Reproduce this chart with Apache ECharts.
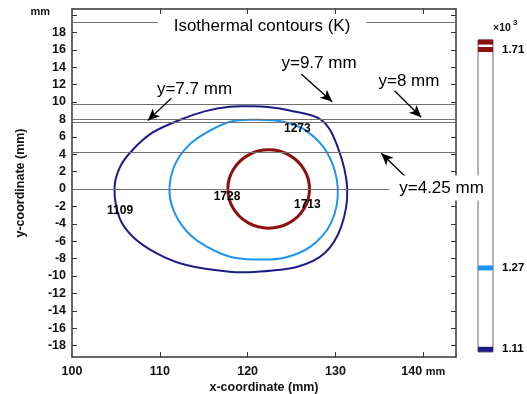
<!DOCTYPE html>
<html><head><meta charset="utf-8">
<script src="https://cdn.jsdelivr.net/npm/echarts@6/dist/echarts.min.js"></script>
<style>html,body{margin:0;padding:0;background:#fff}#c{width:527px;height:394px}</style>
</head><body><div id="c"></div>
<script>
const FONT = "'Liberation Sans', Arial, sans-serif";
const xRange = [100, 143.73];
const yRange = [-19.31, 20.69];
const xTickLabels = [100, 110, 120, 130, 140];
const xTickMarks = [110, 120, 130, 140];
const yTickValues = [-18,-16,-14,-12,-10,-8,-6,-4,-2,0,2,4,6,8,10,12,14,16,18,20];
const refLineY = [19.2, 9.7, 8, 7.7, 4.25, 0];

const contour1109 = [
  [120.2,9.5],[122.3,9.43],[124.8,9.02],[128.4,7.93],[130.24,4.86],[131.34,0.08],
  [130.66,-4.33],[128.76,-7.39],[125.68,-8.93],[121.13,-9.51],[117.94,-9.51],
  [113.01,-8.74],[109.59,-7.36],[106.92,-5.48],[105.41,-3.33],[104.84,0.08],
  [105.5,2.6],[107.0,4.6],[109.2,6.5],[112.24,7.93],[115.2,8.95],[117.94,9.46]
];
const contour1273 = [
  [121.1,7.95],[124.2,7.7],[126.8,6.6],[129.1,4.1],[130.27,0.1],[129.5,-3.9],
  [127.2,-6.6],[124.2,-7.9],[121.1,-8.1],[117.9,-7.75],[114.5,-6.1],[112.6,-4.3],
  [111.4,-2.0],[111.1,0.1],[111.6,2.5],[112.8,4.5],[114.5,6.0],[117.9,7.7]
];
const contour1713 = [
  [122.4,4.5],[124.73,3.9],[126.43,2.25],[127.05,0],[126.43,-2.25],[124.73,-3.9],
  [122.4,-4.5],[120.08,-3.9],[118.37,-2.25],[117.75,0],[118.37,2.25],[120.08,3.9]
];
const contourLabels = [
  ['1109', 105.47, -2.53],
  ['1728', 117.65, -0.89],
  ['1713', 126.8, -1.76],
  ['1273', 125.66, 6.98]
];
const annotationTexts = ['Isothermal contours (K)', 'y=9.7 mm', 'y=8 mm', 'y=7.7 mm', 'y=4.25 mm'];
const annotationPos = [[121.64, 18.75], [128.13, 14.48], [138.37, 12.36], [113.95, 11.49], [141.74, 0.11]];
const arrowFrom = [[111.30,10.43],[126.1,13.22],[136.73,11.29],[137.98,1.41]];
const arrowTo   = [[108.63,7.86],[129.64,10.03],[139.77,8.24],[135.22,4.1]];

const colorbarValues = [1.109, 1.273, 1.713, 1.728];
const colorbarLabels = ['1.11', '1.27', '1.71', ''];
const colorbarRange = [1.1036, 1.7322];

const C_NAVY = '#1c1c88', C_BLUE = '#1e96f0', C_RED = '#8e0f0f';
const colorbarColors = [C_NAVY, C_BLUE, C_RED, C_RED];

const chart = echarts.init(document.getElementById('c'), null, {renderer: 'canvas'});
const axisLineStyle = {color: '#333', width: 1.5};
const labelPads = [[2,16,2,16],[0,0,0,0],[0,0,0,0],[0,0,0,0],[4,4,4,10]];

function closedCurve(color, width) {
  return function (params, api) {
    if (params.dataIndexInside !== 0) return null;
    const n = params.dataInsideLength;
    const p = [];
    for (let i = 0; i < n; i++) p.push(api.coord([api.value(0, i), api.value(1, i)]));
    let d = 'M' + p[0][0] + ',' + p[0][1];
    for (let i = 0; i < n; i++) {
      const p0 = p[(i - 1 + n) % n], p1 = p[i], p2 = p[(i + 1) % n], p3 = p[(i + 2) % n];
      const c1 = [p1[0] + (p2[0] - p0[0]) / 6, p1[1] + (p2[1] - p0[1]) / 6];
      const c2 = [p2[0] - (p3[0] - p1[0]) / 6, p2[1] - (p3[1] - p1[1]) / 6];
      d += 'C' + c1[0] + ',' + c1[1] + ',' + c2[0] + ',' + c2[1] + ',' + p2[0] + ',' + p2[1];
    }
    d += 'Z';
    return {type: 'path', shape: {pathData: d}, style: {fill: 'none', stroke: color, lineWidth: width}};
  };
}

const noOverlap = {nameMoveOverlap: false};

const option = {
  animation: false,
  backgroundColor: '#fff',
  textStyle: {fontFamily: FONT},
  grid: [
    {left: 72, top: 9, width: 384, height: 348, outerBoundsMode: 'none', containLabel: false},
    {left: 478, top: 40, width: 15, height: 312, outerBoundsMode: 'none', containLabel: false,
     show: true, borderColor: '#666', borderWidth: 1, backgroundColor: '#fff'}
  ],
  xAxis: [
    Object.assign({gridIndex: 0, type: 'value', position: 'bottom', min: xRange[0], max: xRange[1],
     axisLine: {onZero: false, lineStyle: axisLineStyle}, splitLine: {show: false},
     axisTick: {inside: true, length: 5, lineStyle: {color: '#333'}, customValues: xTickMarks},
     axisLabel: {margin: 8, color: '#111', fontWeight: 'bold', fontSize: 12.5, fontFamily: FONT,
       customValues: xTickLabels,
       formatter: v => v === 140 ? '140 {u|mm}' : String(v),
       rich: {u: {fontSize: 11, fontWeight: 'bold', fontFamily: FONT, color: '#111'}}},
     name: 'x-coordinate (mm)', nameLocation: 'middle', nameGap: 24,
     nameTextStyle: {fontWeight: 'bold', fontSize: 12.5, color: '#111', fontFamily: FONT}}, noOverlap),
    {gridIndex: 0, type: 'value', position: 'top', min: xRange[0], max: xRange[1],
     axisLine: {onZero: false, lineStyle: axisLineStyle}, splitLine: {show: false},
     axisTick: {inside: true, length: 5, lineStyle: {color: '#333'}, customValues: xTickMarks}, axisLabel: {show: false}},
    {gridIndex: 1, type: 'value', min: 0, max: 1, show: false}
  ],
  yAxis: [
    Object.assign({gridIndex: 0, type: 'value', position: 'left', min: yRange[0], max: yRange[1],
     axisLine: {onZero: false, lineStyle: axisLineStyle}, splitLine: {show: false},
     axisTick: {inside: true, length: 5, lineStyle: {color: '#333'}, customValues: yTickValues},
     axisLabel: {margin: 6, color: '#111', fontWeight: 'bold', fontSize: 12.5, fontFamily: FONT,
       customValues: yTickValues,
       formatter: v => v === 20 ? '{u|mm}' : String(v),
       rich: {u: {fontSize: 11, fontWeight: 'bold', fontFamily: FONT, color: '#111', padding: [0, 16, 6, 0]}}},
     name: 'y-coordinate (mm)', nameLocation: 'middle', nameGap: 45,
     nameTextStyle: {fontWeight: 'bold', fontSize: 12.5, color: '#111', fontFamily: FONT}}, noOverlap),
    {gridIndex: 0, type: 'value', position: 'right', min: yRange[0], max: yRange[1],
     axisLine: {onZero: false, lineStyle: axisLineStyle}, splitLine: {show: false},
     axisTick: {inside: true, length: 5, lineStyle: {color: '#333'}, customValues: yTickValues},
     axisLabel: {show: false}},
    {gridIndex: 1, type: 'value', min: colorbarRange[0], max: colorbarRange[1], show: false}
  ],
  graphic: [
    {type: 'text', left: 493, top: 23, z: 100, style: {text: '×10', font: 'bold 10.5px ' + FONT, fill: '#111'}},
    {type: 'text', left: 513, top: 19, z: 100, style: {text: '3', font: 'bold 8px ' + FONT, fill: '#111'}}
  ],
  series: [
    {type: 'line', xAxisIndex: 0, yAxisIndex: 0, data: [], silent: true,
     markLine: {silent: true, symbol: ['none', 'none'], label: {show: false},
       lineStyle: {color: '#707070', width: 1.2, type: 'solid'},
       data: refLineY.map(y => [{coord: [xRange[0], y]}, {coord: [xRange[1], y]}])}},
    {type: 'custom', name: '1109', data: contour1109, silent: true, z: 3,
     encode: {x: 0, y: 1}, renderItem: closedCurve(C_NAVY, 2)},
    {type: 'custom', name: '1273', data: contour1273, silent: true, z: 3,
     encode: {x: 0, y: 1}, renderItem: closedCurve(C_BLUE, 2)},
    {type: 'custom', name: '1713', data: contour1713, silent: true, z: 3,
     encode: {x: 0, y: 1}, renderItem: closedCurve(C_RED, 3)},
    {type: 'line', xAxisIndex: 0, yAxisIndex: 0, data: [], silent: true, z: 5,
     markLine: {silent: true, symbol: ['none', 'arrow'], symbolSize: [8, 12], label: {show: false},
       lineStyle: {color: '#000', width: 1.3, type: 'solid'},
       data: arrowFrom.map((p, i) => [{coord: p}, {coord: arrowTo[i]}])}},
    {type: 'scatter', z: 6, silent: true, symbolSize: 1, itemStyle: {color: 'rgba(0,0,0,0)', opacity: 1},
     data: contourLabels.map(d => ({name: d[0], value: [d[1], d[2]]})),
     label: {show: true, position: 'inside', opacity: 1, formatter: p => p.name, color: '#000', fontWeight: 'bold', fontSize: 12, fontFamily: FONT}},
    {type: 'scatter', z: 10, silent: true, symbolSize: 1, clip: false, itemStyle: {color: 'rgba(0,0,0,0)', opacity: 1},
     data: annotationTexts.map((t, i) => ({name: t, value: annotationPos[i],
       label: {padding: labelPads[i], backgroundColor: (i === 0 || i === 4) ? '#fff' : 'transparent'}})),
     label: {show: true, position: 'inside', opacity: 1, formatter: p => p.name, color: '#000', fontSize: 17, fontFamily: FONT}},
    {type: 'scatter', xAxisIndex: 2, yAxisIndex: 2, silent: true, symbol: 'rect', symbolSize: [15, 5], clip: false,
     itemStyle: {opacity: 1},
     data: colorbarValues.map((v, i) => ({value: [0.5, v], itemStyle: {color: colorbarColors[i], opacity: 1},
       label: {formatter: colorbarLabels[i]}})),
     label: {show: true, position: 'right', distance: 9, opacity: 1, color: '#000', fontWeight: 'bold', fontSize: 11.5, fontFamily: FONT}}
  ]
};
chart.setOption(option);
</script></body></html>
